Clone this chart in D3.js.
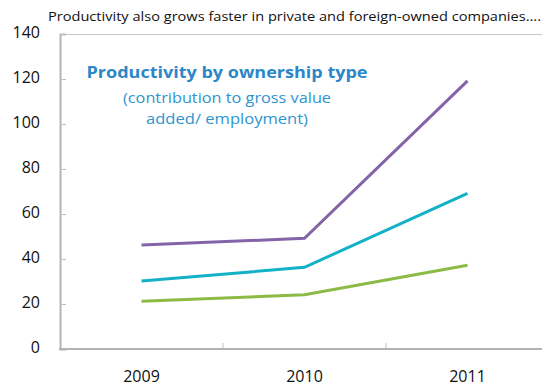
<!DOCTYPE html>
<html><head><meta charset="utf-8">
<script src="https://cdn.jsdelivr.net/npm/d3@7"></script>
<style>body{margin:0;background:#fff}svg{display:block}</style>
</head><body><svg id="c" width="542" height="387"></svg>
<script>
const years = ["2009", "2010", "2011"];
const purpleSeries = [46.2, 49.2, 119.2];
const cyanSeries = [30.2, 36.3, 69.2];
const greenSeries = [21.2, 24.1, 37.2];
const yTicks = [0, 20, 40, 60, 80, 100, 120, 140];
const headline = "Productivity also grows faster in private and foreign-owned companies....";
const titleLines = ["Productivity by ownership type", "(contribution to gross value", "added/ employment)"];

const svg = d3.select("#c");
const L = 60, R = 549, T = 34, B = 349;
const x = d3.scaleBand().domain(years).range([L, R]);
const y = d3.scaleLinear().domain([0, 140]).range([B, T]);
const font = "'Open Sans', 'DejaVu Sans', sans-serif";

// top border
svg.append("line").attr("x1", L).attr("x2", R).attr("y1", T + 0.5).attr("y2", T + 0.5)
  .attr("stroke", "#c8c8c8").attr("stroke-width", 1);

// y axis
const ya = svg.append("g").attr("transform", `translate(${L},0)`)
  .call(d3.axisRight(y).tickValues(yTicks).tickSize(6).tickFormat(""));
ya.select(".domain").attr("stroke", "#b3b3b3").attr("stroke-width", 2);
ya.selectAll(".tick line").attr("stroke", "#c0c0c0").attr("stroke-width", 1);
svg.append("g").selectAll("text").data(yTicks).join("text")
  .attr("x", 40).attr("y", d => y(d) + 4).attr("text-anchor", "end")
  .attr("font-family", font).attr("font-size", 16).attr("fill", "#111")
  .text(d => d);

// x axis
svg.append("line").attr("x1", L - 1).attr("x2", R).attr("y1", B).attr("y2", B)
  .attr("stroke", "#b3b3b3").attr("stroke-width", 2);
svg.append("g").selectAll("line").data(years.slice(1)).join("line")
  .attr("x1", d => x(d)).attr("x2", d => x(d)).attr("y1", B).attr("y2", B - 6)
  .attr("stroke", "#c0c0c0").attr("stroke-width", 1);
svg.append("g").selectAll("text").data(years).join("text")
  .attr("x", d => x(d) + x.bandwidth() / 2).attr("y", 382).attr("text-anchor", "middle")
  .attr("font-family", font).attr("font-size", 16).attr("fill", "#111")
  .text(d => d);

// lines
const line = d3.line().x((d, i) => x(years[i]) + x.bandwidth() / 2).y(d => y(d));
[[greenSeries, "#8cbb45"], [cyanSeries, "#13b1c8"], [purpleSeries, "#8464a8"]].forEach(([s, c]) => {
  svg.append("path").datum(s).attr("d", line).attr("fill", "none")
    .attr("stroke", c).attr("stroke-width", 3).attr("stroke-linejoin", "miter");
});

// headline
svg.append("text").attr("x", 48).attr("y", 21).attr("font-family", font)
  .attr("font-size", 13).attr("fill", "#111").attr("textLength", 493)
  .attr("lengthAdjust", "spacingAndGlyphs").text(headline);

// inner title
svg.append("text").attr("x", 227).attr("y", 78).attr("text-anchor", "middle")
  .attr("font-family", font).attr("font-size", 16).attr("font-weight", "bold")
  .attr("fill", "#2b87c8").attr("textLength", 281).attr("lengthAdjust", "spacingAndGlyphs")
  .text(titleLines[0]);
svg.append("text").attr("x", 227).attr("y", 103).attr("text-anchor", "middle")
  .attr("font-family", font).attr("font-size", 15).attr("fill", "#2e95d0")
  .attr("textLength", 208).attr("lengthAdjust", "spacingAndGlyphs").text(titleLines[1]);
svg.append("text").attr("x", 227).attr("y", 124).attr("text-anchor", "middle")
  .attr("font-family", font).attr("font-size", 15).attr("fill", "#2e95d0")
  .attr("textLength", 162).attr("lengthAdjust", "spacingAndGlyphs").text(titleLines[2]);
</script></body></html>
